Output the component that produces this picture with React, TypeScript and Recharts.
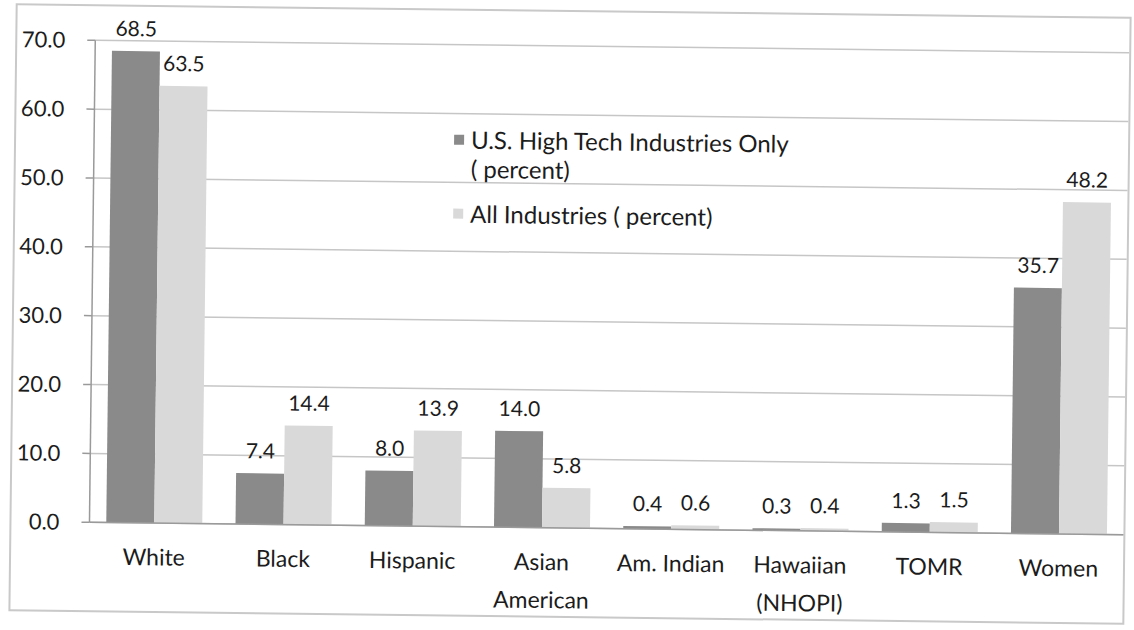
import React from 'react';
import { BarChart, Bar, XAxis, YAxis, CartesianGrid, LabelList, Legend } from 'recharts';

// Workforce share by group: U.S. high tech industries vs. all industries (percent)
const categories = [
  'White',
  'Black',
  'Hispanic',
  'Asian\nAmerican',
  'Am. Indian',
  'Hawaiian\n(NHOPI)',
  'TOMR',
  'Women',
];
const highTechPercent = [68.5, 7.4, 8.0, 14.0, 0.4, 0.3, 1.3, 35.7];
const allIndustriesPercent = [63.5, 14.4, 13.9, 5.8, 0.6, 0.4, 1.5, 48.2];
const yTicks = [0, 10, 20, 30, 40, 50, 60, 70];
const highTechName = 'U.S. High Tech Industries Only\n( percent)';
const allIndustriesName = 'All Industries ( percent)';

const DARK = '#8a8a8a';
const LIGHT = '#d9d9d9';
const TEXT = '#1c1c1c';
const FONT = 'Lato, "Open Sans", "DejaVu Sans", sans-serif';

const data = categories.map((c, i) => ({
  category: c,
  highTech: highTechPercent[i],
  allIndustries: allIndustriesPercent[i],
}));

const fmt = (v: number) => Number(v).toFixed(1);

const CategoryTick = (props: any) => {
  const { x, y, payload } = props;
  const lines = String(payload.value).split('\n');
  return (
    <text x={x} y={y} textAnchor="middle" fill={TEXT} fontSize={23} fontFamily={FONT}>
      {lines.map((line, i) => (
        <tspan key={i} x={x} dy={i === 0 ? '0.71em' : 38}>
          {line}
        </tspan>
      ))}
    </text>
  );
};

const LegendBox = () => {
  const entries = [
    { name: highTechName, color: DARK },
    { name: allIndustriesName, color: LIGHT },
  ];
  return (
    <div style={{ fontFamily: FONT, fontSize: 24, color: TEXT }}>
      {entries.map((e, i) => (
        <div key={i} style={{ display: 'flex', alignItems: 'flex-start', marginBottom: i === 0 ? 16 : 0 }}>
          <div
            style={{
              width: 10,
              height: 10,
              background: e.color,
              marginTop: 10,
              marginRight: 7,
              flex: 'none',
            }}
          />
          <div style={{ lineHeight: '29px', whiteSpace: 'pre' }}>{e.name}</div>
        </div>
      ))}
    </div>
  );
};

export default function App() {
  return (
    <div
      style={{
        position: 'absolute',
        left: 0,
        top: 0,
        width: 1134,
        height: 630,
        background: '#ffffff',
        overflow: 'hidden',
      }}
    >
      <div
        style={{
          position: 'absolute',
          left: 0,
          top: 0,
          width: 1134,
          height: 630,
          transform: 'rotate(0.69deg)',
          transformOrigin: '567px 315px',
        }}
      >
        <div
          style={{
            position: 'absolute',
            left: 12,
            top: 10,
            width: 1116,
            height: 608,
            border: '2px solid #c9c9c9',
            boxSizing: 'border-box',
          }}
        />
        <BarChart
          width={1134}
          height={630}
          data={data}
          margin={{ top: 46, right: 8, bottom: 72, left: 0 }}
          barCategoryGap="13%"
          barGap={0}
        >
          <CartesianGrid vertical={false} stroke="#c6c6c6" strokeWidth={1.5} />
          <XAxis
            dataKey="category"
            height={30}
            interval={0}
            tickLine={false}
            tickSize={0}
            tickMargin={26}
            axisLine={{ stroke: '#9a9a9a', strokeWidth: 1.5 }}
            tick={<CategoryTick />}
          />
          <YAxis
            width={92}
            domain={[0, 70]}
            ticks={yTicks}
            tickFormatter={fmt}
            tickSize={8}
            tickMargin={22}
            axisLine={{ stroke: '#9a9a9a', strokeWidth: 1.5 }}
            tickLine={{ stroke: '#9a9a9a', strokeWidth: 1.5 }}
            tick={{ fill: TEXT, fontSize: 22, fontFamily: FONT }}
          />
          <Legend
            layout="vertical"
            align="center"
            verticalAlign="middle"
            content={<LegendBox />}
            wrapperStyle={{ position: 'absolute', left: 452, top: 126, width: 420 }}
          />
          <Bar dataKey="highTech" name={highTechName} fill={DARK} isAnimationActive={false}>
            <LabelList
              dataKey="highTech"
              position="top"
              offset={15}
              formatter={fmt}
              fill={TEXT}
              fontSize={21}
              fontFamily={FONT}
            />
          </Bar>
          <Bar dataKey="allIndustries" name={allIndustriesName} fill={LIGHT} isAnimationActive={false}>
            <LabelList
              dataKey="allIndustries"
              position="top"
              offset={15}
              formatter={fmt}
              fill={TEXT}
              fontSize={21}
              fontFamily={FONT}
            />
          </Bar>
        </BarChart>
      </div>
    </div>
  );
}
